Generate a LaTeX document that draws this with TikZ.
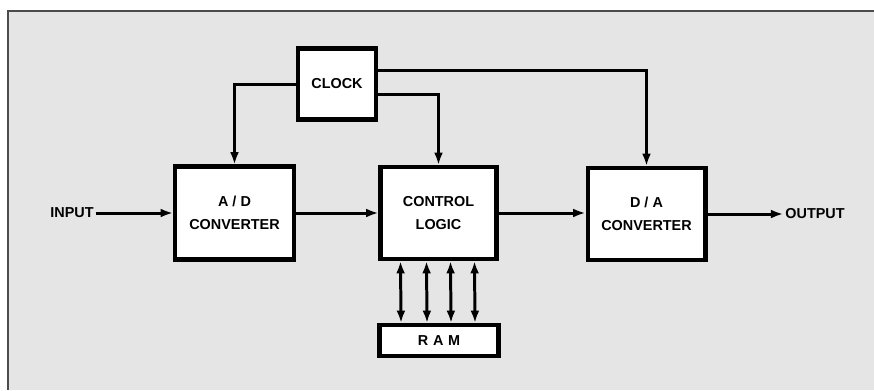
\documentclass[tikz,border=0pt]{standalone}
\usepackage{fontspec}
\setsansfont{Liberation Sans}
\usetikzlibrary{arrows.meta}

\newcommand*{\labelfont}{\sffamily\bfseries\fontsize{8.2}{13}\selectfont}

\begin{document}
\begin{tikzpicture}
[
	x=0.02cm,
	y=-0.02cm,
	block/.style={draw,fill=white,line width=2.3pt,inner sep=0pt,align=center,font=\labelfont},
	wire/.style={line width=1.7pt},
	arr/.style={wire,-{Latex[length=7pt,width=5pt]}},
	biarr/.style={wire,{Latex[length=7pt,width=5pt]}-{Latex[length=7pt,width=5pt]}},
	tag/.style={font=\labelfont,inner sep=1pt}
]

	% page and frame
	\useasboundingbox (0,0) rectangle (874,390);
	\fill[white] (0,0) rectangle (874,390);
	\fill[black!10] (8,11) rectangle (874,390);
	\draw[line width=0.9pt,black!70] (8,390) -- (8,11) -- (874,11);

	% blocks
	\node[block,minimum width=1.56cm,minimum height=1.42cm] (clock) at (337,84) {CLOCK};
	\node[block,minimum width=2.38cm,minimum height=1.86cm] (ad) at (234.5,213) {A / D\\CONVERTER};
	\node[block,minimum width=2.32cm,minimum height=1.84cm] (cl) at (438.5,213) {CONTROL\\LOGIC};
	\node[block,minimum width=2.36cm,minimum height=1.84cm] (da) at (646.5,214) {D / A\\CONVERTER};
	\node[block,minimum width=2.38cm,minimum height=0.62cm] (ram) at (439,340.5) {R\,\,A\,\,M};

	\node[tag] (input) at (72,213) {INPUT};
	\node[tag] (output) at (815,214) {OUTPUT};

	% signal path
	\draw[arr] (input.east) -- (ad.west);
	\draw[arr] (ad.east) -- (cl.west);
	\draw[arr] (cl.east) -- (da.west |- cl.east);
	\draw[arr] (da.east) -- (output.west);

	% clock lines
	\draw[arr] (clock.west) -| (ad.north);
	\draw[arr] ([yshift=0.28cm]clock.east) -| (da.north);
	\draw[arr] ([yshift=-0.2cm]clock.east) -| (cl.north);

	% memory bus
	\foreach \dx in {-0.76,-0.24,0.24,0.72}
		\draw[biarr] ([xshift=\dx cm]cl.south) -- ([xshift=\dx cm]ram.north);

\end{tikzpicture}
\end{document}
